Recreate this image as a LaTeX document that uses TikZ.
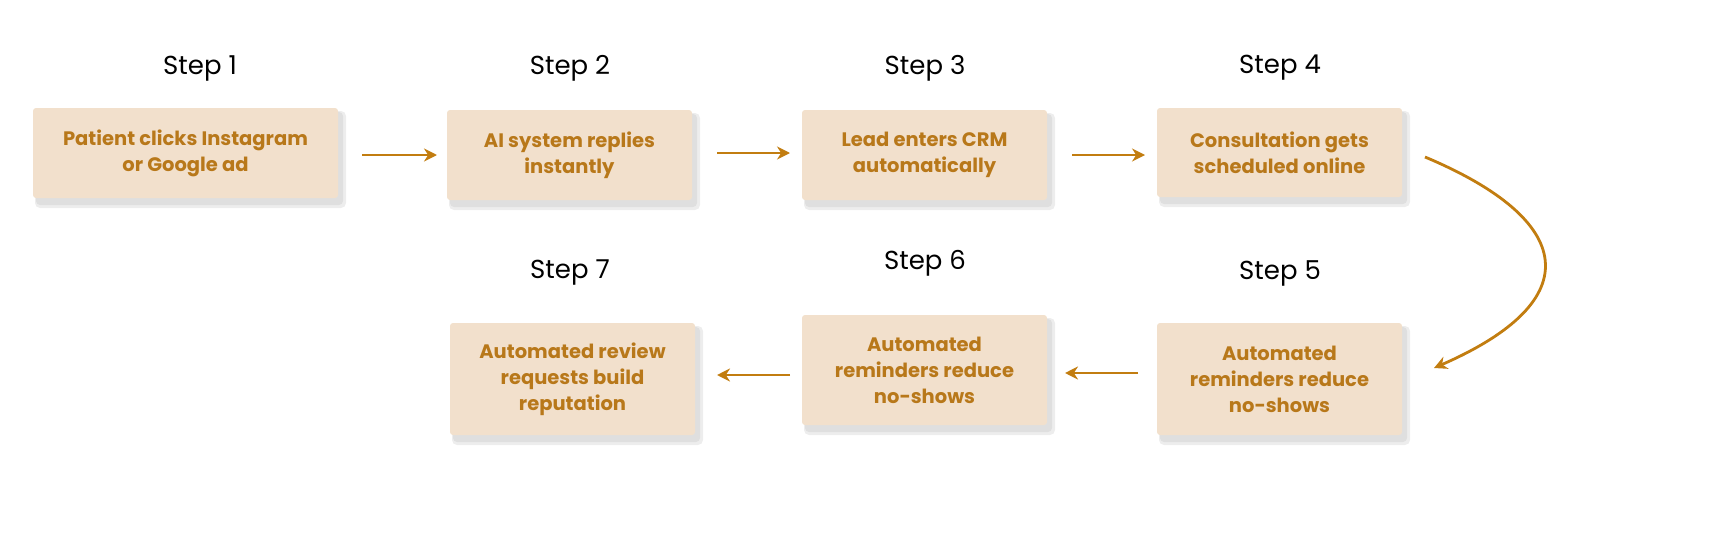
\documentclass[tikz,border=0pt]{standalone}
\usepackage{fontspec}
\setmainfont{Poppins}
\usetikzlibrary{arrows.meta}
\definecolor{boxfill}{HTML}{F2E0CC}
\definecolor{txt}{HTML}{B8781A}
\definecolor{arr}{HTML}{C27D10}
\newcommand{\mybx}[5]{%
  \fill[black,opacity=0.07,rounded corners=5pt] ($(#2)+({-#3/2+2},{-#4/2+3})$) rectangle ($(#2)+({#3/2+8},{#4/2+10})$);
  \fill[black,opacity=0.06,rounded corners=4pt] ($(#2)+({-#3/2+3},{-#4/2+4})$) rectangle ($(#2)+({#3/2+5},{#4/2+7})$);
  \node[box,minimum width=#3pt,minimum height=#4pt] (#1) at (#2) {#5};}
\usetikzlibrary{calc}
\begin{document}
\begin{tikzpicture}[x=1pt,y=-1pt,
  box/.style={fill=boxfill,rounded corners=3pt,align=center,inner sep=0pt,
    font=\fontsize{19.5}{26}\selectfont\bfseries,text=txt},
  steplbl/.style={font=\fontsize{26}{30}\selectfont},
  ar/.style={draw=arr,line width=2.8pt,-{Stealth[length=13pt,width=13pt]}}]
\useasboundingbox (0pt,0pt) rectangle (1734pt,-551pt);
\mybx{b1}{185.5,153}{305}{90}{Patient clicks Instagram\\or Google ad}
\mybx{b2}{569.5,155}{245}{90}{AI system replies\\instantly}
\mybx{b3}{924.5,155}{245}{90}{Lead enters CRM\\automatically}
\mybx{b4}{1279.5,152.5}{245}{89}{Consultation gets\\scheduled online}
\mybx{b5}{1279.5,379}{245}{112}{Automated\\reminders reduce\\no-shows}
\mybx{b6}{924.5,370}{245}{110}{Automated\\reminders reduce\\no-shows}
\mybx{b7}{572.5,379}{245}{112}{Automated review\\requests build\\reputation}
\node[steplbl] (s1) at (200,68) {Step 1};
\node[steplbl] (s2) at (570,68) {Step 2};
\node[steplbl] (s3) at (925,68) {Step 3};
\node[steplbl] (s4) at (1280,68) {Step 4};
\node[steplbl] (s5) at (1280,273) {Step 5};
\node[steplbl] (s6) at (925,263) {Step 6};
\node[steplbl] (s7) at (570,273) {Step 7};
\coordinate (a1s) at (362,155); \coordinate (a1e) at (437,155);
\coordinate (a2s) at (717,153); \coordinate (a2e) at (790,153);
\coordinate (a3s) at (1072,155); \coordinate (a3e) at (1145,155);
\coordinate (cs) at (1425,157); \coordinate (ce) at (1434,368);
\coordinate (a5s) at (1138,373); \coordinate (a5e) at (1065,373);
\coordinate (a6s) at (790,375); \coordinate (a6e) at (717,375);
\draw[ar] (a1s) -- (a1e);
\draw[ar] (a2s) -- (a2e);
\draw[ar] (a3s) -- (a3e);
\draw[ar] (cs) .. controls (1575,220) and (1590,300) .. (ce);
\draw[ar] (a5s) -- (a5e);
\draw[ar] (a6s) -- (a6e);
\end{tikzpicture}
\end{document}
